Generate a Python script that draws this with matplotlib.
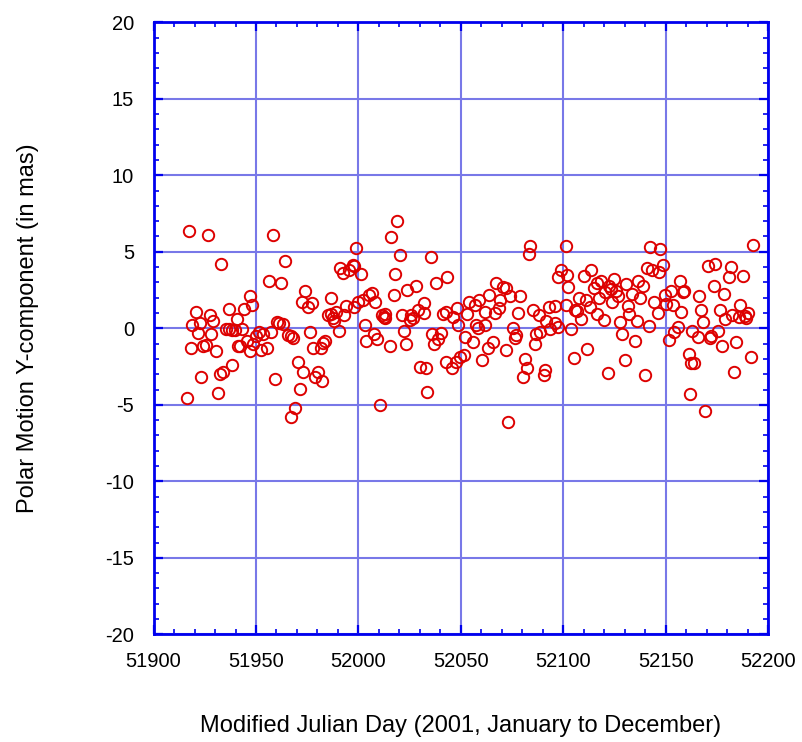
import matplotlib
matplotlib.use('Agg')
import matplotlib.pyplot as plt
from matplotlib.ticker import MultipleLocator

# Modified Julian Day, 2001
mjd = [
    51916.5, 51917.3, 51918.2, 51919.0, 51920.5, 51921.5, 51922.6, 51923.2, 51924.2, 51925.5,
    51926.6, 51927.4, 51928.0, 51929.0, 51930.5, 51931.6, 51932.4, 51932.9, 51934.1, 51935.3,
    51936.6, 51936.9, 51938.1, 51938.5, 51939.8, 51940.7, 51941.4, 51942.4, 51943.3, 51944.0,
    51945.6, 51946.9, 51947.0, 51947.9, 51948.6, 51949.9,
    51951.6, 51952.4, 51953.2, 51955.6, 51956.5, 51957.3, 51958.2, 51959.1, 51960.3, 51961.4,
    51962.2, 51963.0, 51964.1, 51965.4, 51967.0, 51967.3, 51968.3, 51969.0, 51970.4, 51971.4,
    51972.5, 51973.1, 51973.9, 51975.5, 51976.3, 51977.3, 51977.6, 51978.9, 51980.5, 51981.8,
    51982.2, 51982.6, 51983.8, 51985.0, 51986.4, 51986.6, 51987.7, 51988.0, 51989.1, 51990.7,
    51991.2, 51992.7, 51993.1, 51993.9, 51995.2, 51997.2, 51998.0, 51998.1, 51998.8, 51999.6,
    52001.2, 52002.2, 52003.2, 52003.8, 52005.1, 52006.8, 52007.6, 52008.0, 52009.2, 52010.5,
    52011.3, 52012.4, 52012.9, 52013.2, 52015.6, 52016.1, 52017.2, 52018.0, 52018.8, 52020.5,
    52021.3, 52022.4, 52023.2, 52023.7, 52025.3, 52025.8, 52026.9, 52028.0, 52029.0, 52030.1,
    52031.8, 52032.2, 52033.0, 52033.4, 52035.5, 52035.8, 52037.1, 52037.9, 52038.7, 52040.3,
    52041.4, 52042.6, 52042.9, 52043.5, 52045.6, 52046.4, 52047.5, 52048.0, 52048.5, 52049.8,
    52051.4, 52052.2, 52053.0, 52053.8, 52055.8, 52056.7, 52057.4, 52058.3, 52059.0, 52060.6,
    52061.6, 52061.9, 52063.5, 52064.0, 52065.9, 52066.7, 52067.1, 52068.7, 52069.1, 52070.8,
    52071.9, 52072.1, 52073.2, 52074.0, 52075.6, 52076.4, 52077.2, 52078.0, 52078.8, 52080.4,
    52081.2, 52082.1, 52083.2, 52083.7, 52085.3, 52086.1, 52086.9, 52088.0, 52088.5, 52090.6,
    52091.2, 52091.7, 52093.3, 52093.8, 52095.8, 52096.2, 52097.4, 52097.7, 52098.7,
    52101.2, 52101.2, 52102.0, 52102.3, 52103.6, 52105.2, 52106.0, 52106.8, 52107.7, 52108.8,
    52110.4, 52110.9, 52111.7, 52113.0, 52113.6, 52114.9, 52116.5, 52116.7, 52117.3, 52118.5,
    52120.1, 52120.6, 52121.9, 52122.2, 52123.3, 52124.0, 52124.9, 52125.9, 52127.0, 52127.8,
    52128.6, 52130.2, 52130.7, 52131.5, 52132.3, 52133.5, 52135.1, 52135.9, 52136.7, 52137.5,
    52138.8, 52139.9, 52140.7, 52141.7, 52142.5, 52143.3, 52144.2, 52146.2, 52147.0, 52147.4,
    52148.5, 52149.5, 52150.2,
    52151.9, 52152.4, 52153.5, 52154.3, 52156.0, 52156.8, 52157.7, 52158.5, 52158.9, 52161.2,
    52161.7, 52162.5, 52162.8, 52164.1, 52166.0, 52166.5, 52167.3, 52168.2, 52169.3, 52170.6,
    52171.8, 52172.2, 52173.8, 52174.3, 52175.7, 52176.7, 52177.5, 52178.3, 52179.1, 52181.0,
    52182.1, 52182.6, 52183.4, 52184.6, 52185.7, 52186.2, 52187.8, 52188.6, 52189.4, 52190.0,
    52191.8, 52192.6,
]

# Polar motion Y-component residual (mas)
pm_y = [
    -4.54, 6.33, -1.27, 0.22, 1.07, -0.28, 0.35, -3.21, -1.16, -1.09,
    6.11, 0.87, -0.39, 0.50, -1.48, -4.21, -2.97, 4.19, -2.84, -0.04,
    1.27, -0.07, -2.40, -0.11, -0.13, 0.61, -1.14, -1.18, -0.07, 1.27,
    -0.81, -1.48, 2.10, 1.53, -1.05, -0.48,
    -0.26, -1.42, -0.37, -1.27, 3.10, -0.26, 6.11, -3.32, 0.44, 0.33,
    2.95, 0.31, 4.43, -0.44, -0.48, -5.79, -0.61, -5.20, -2.18, -3.97,
    1.75, -2.84, 2.45, 1.42, -0.26, 1.64, -1.27, -3.21, -2.84, -1.27,
    -3.43, -0.94, -0.83, 0.87, 1.97, 0.92, 0.66, 0.45, 1.05, -0.17,
    3.93, 3.60, 0.87, 1.48, 3.82, 4.15, 1.42, 4.04, 5.24, 1.70,
    3.52, 1.86, 0.22, -0.81, 2.18, 2.29, -0.37, 1.75, -0.72, -4.98,
    0.87, 0.76, 0.92, 0.66, -1.16, 5.96, 2.18, 3.54, 7.03, 4.76,
    0.87, -0.15, -1.05, 2.51, 0.55, 0.87, 0.66, 2.79, 1.20, -2.51,
    0.98, 1.64, -2.62, -4.19, 4.63, -0.37, -1.05, 2.95, -0.70, -0.33,
    0.92, 1.09, -2.23, 3.32, -2.62, 0.76, -2.18, 1.31, 0.22, -1.90,
    -1.75, -0.55, 0.92, 1.75, -0.92, 1.53, 0.22, 0.00, 1.86, -2.07,
    0.22, 1.09, -1.27, 2.18, -0.92, 0.98, 2.99, 1.35, 1.86, 2.73,
    2.62, -1.42, -6.11, 2.12, 0.00, -0.66, -0.44, 0.98, 2.12, -3.21,
    -2.03, -2.62, 4.87, 5.35, 1.20, -1.03, -0.39, 0.87, -0.26, -3.06,
    -2.73, 0.48, 1.42, -0.07, 1.48, 0.33, 0.11, 3.32, 3.82,
    5.41, 1.53, 3.49, 2.73, -0.04, -1.92, 1.20, 1.10, 1.97, 0.61,
    3.43, 1.86, -1.38, 1.42, 3.78, 2.62, 2.95, 0.92, 1.97, 3.06,
    0.55, 2.36, -2.95, 2.79, 2.60, 1.70, 3.21, 2.45, 2.12, 0.44,
    -0.37, -2.07, 2.88, 1.46, 0.92, 2.23, -0.83, 0.48, 3.12, 1.97,
    2.79, -3.06, 3.97, 0.17, 5.31, 3.82, 1.75, 0.98, 3.67, 5.20,
    4.15, 2.18, 1.57,
    -0.76, 2.45, 1.53, -0.26, 0.11, 3.12, 1.09, 2.34, 2.45, -1.70,
    -4.30, -2.25, -0.15, -2.25, -0.59, 2.12, 1.20, 0.44, -5.41, 4.10,
    -0.61, -0.48, 2.77, 4.19, -0.17, 1.20, -1.16, 2.23, 0.61, 3.34,
    4.00, 0.87, -2.84, -0.92, 0.76, 1.53, 3.45, 0.81, 0.70, 0.98,
    -1.86, 5.46,
]

n = min(len(mjd), len(pm_y))
mjd, pm_y = mjd[:n], pm_y[:n]

AXIS_BLUE = '#0000ee'
GRID_BLUE = '#7878e8'
MARK_RED = '#dd0000'

plt.rcParams['font.family'] = ['Liberation Sans', 'DejaVu Sans']
plt.rcParams['axes.unicode_minus'] = False

fig = plt.figure(figsize=(8.02, 7.42), dpi=100)
ax = fig.add_axes([0.1915, 0.1451, 0.7661, 0.8249])

ax.plot(mjd, pm_y, linestyle='none', marker='o', markersize=8.2,
        markerfacecolor='none', markeredgecolor=MARK_RED, markeredgewidth=1.4,
        zorder=3)

ax.set_xlim(51900, 52200)
ax.set_ylim(-20, 20)
ax.xaxis.set_major_locator(MultipleLocator(50))
ax.xaxis.set_minor_locator(MultipleLocator(10))
ax.yaxis.set_major_locator(MultipleLocator(5))
ax.yaxis.set_minor_locator(MultipleLocator(1))

ax.grid(True, which='major', color=GRID_BLUE, linewidth=1.5, zorder=1)
ax.set_axisbelow(True)

for sp in ax.spines.values():
    sp.set_color(AXIS_BLUE)
    sp.set_linewidth(2)

ax.tick_params(which='both', direction='in', top=True, right=True,
               color=AXIS_BLUE, labelsize=14.5, labelcolor='black')
ax.tick_params(which='major', length=6.5, width=1.6)
ax.tick_params(which='minor', length=3.6, width=1.2)
ax.tick_params(axis='x', which='major', pad=13)
ax.tick_params(axis='y', which='major', pad=14)

ax.set_xlabel('Modified Julian Day (2001, January to December)', fontsize=17)
ax.set_ylabel('Polar Motion Y-component (in mas)', fontsize=17)
ax.xaxis.set_label_coords(0.5, -0.132)
ax.yaxis.set_label_coords(-0.187, 0.5)

fig.savefig('out.png', dpi=100)
